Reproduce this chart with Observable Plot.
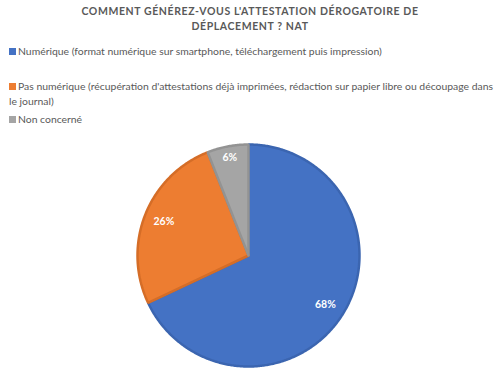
<!DOCTYPE html>
<html>
<head>
<meta charset="utf-8">
<script src="https://cdn.jsdelivr.net/npm/d3@7"></script>
<script src="https://cdn.jsdelivr.net/npm/@observablehq/plot@0.6"></script>
<style>
  html, body { margin: 0; padding: 0; background: #fff; }
  #wrap { position: relative; width: 500px; height: 373px; overflow: hidden; font-family: Lato, sans-serif; }
  #title { position: absolute; left: 0; top: 4px; width: 500px; text-align: center; font-weight: bold; font-size: 10.5px; letter-spacing: 0.6px; line-height: 15px; color: #595959; }
  #legend { position: absolute; left: 9px; top: 44px; font-size: 10.4px; color: #595959; line-height: 15px; }
  .item { position: absolute; left: 0; white-space: nowrap; }
  .sw { display: inline-block; width: 7px; height: 7px; margin-right: 2px; vertical-align: 0px; }
  #chart { position: absolute; left: 0; top: 0; }
</style>
</head>
<body>
<div id="wrap">
  <div id="chart"></div>
  <div id="title">COMMENT GÉNÉREZ-VOUS L'ATTESTATION DÉROGATOIRE DE<br>DÉPLACEMENT ? NAT</div>
  <div id="legend"></div>
</div>
<script>
const categories = [
  "Numérique (format numérique sur smartphone, téléchargement puis impression)",
  "Pas numérique (récupération d'attestations déjà imprimées, rédaction sur papier libre ou découpage dans|le journal)",
  "Non concerné"
];
const values = [68, 26, 6];
const colors = ["#4472C4", "#ED7D31", "#A5A5A5"];
const borders = ["#3B65B0", "#D56D27", "#939393"];

// legend
const legend = document.getElementById("legend");
const legendTops = [0, 35, 68];
categories.forEach((c, i) => {
  const d = document.createElement("div");
  d.className = "item";
  d.style.top = legendTops[i] + "px";
  const parts = c.split("|");
  d.innerHTML = `<span class="sw" style="background:${colors[i]}"></span>` + parts[0] + (parts[1] ? `<br>${parts[1]}` : "");
  legend.appendChild(d);
});

// pie geometry via d3.pie (clockwise from 12 o'clock)
const total = d3.sum(values);
const arcs = d3.pie().sort(null)(values);
const slices = arcs.map((a, i) => {
  const pts = [{x: 0, y: 0}];
  const n = Math.max(4, Math.ceil((a.endAngle - a.startAngle) / 0.01));
  for (let k = 0; k <= n; k++) {
    const t = a.startAngle + (a.endAngle - a.startAngle) * k / n;
    pts.push({x: Math.sin(t), y: Math.cos(t)});
  }
  pts.push({x: 0, y: 0});
  const mid = (a.startAngle + a.endAngle) / 2;
  const share = values[i] / total;
  const lr = share < 0.1 ? 0.9 : 0.82;
  return {pts, label: {x: lr * Math.sin(mid), y: lr * Math.cos(mid), text: Math.round(share * 100) + "%"}};
});

const W = 500, H = 373, cx = 248, cy = 255, R = 111;
const marks = [];
slices.forEach((s, i) => {
  marks.push(Plot.line(s.pts, {x: "x", y: "y", fill: colors[i], stroke: borders[i], strokeWidth: 2.5, strokeLinejoin: "miter", curve: "linear"}));
});
marks.push(Plot.text(slices.map(s => s.label), {x: "x", y: "y", text: "text", fill: "white", fontWeight: "bold", fontSize: 10.5, fontFamily: "Lato, sans-serif"}));

const plot = Plot.plot({
  width: W, height: H,
  margin: 0,
  x: {domain: [-cx / R, (W - cx) / R], range: [0, W], axis: null},
  y: {domain: [-(H - cy) / R, cy / R], range: [H, 0], axis: null},
  marks
});
document.getElementById("chart").appendChild(plot);
</script>
</body>
</html>
